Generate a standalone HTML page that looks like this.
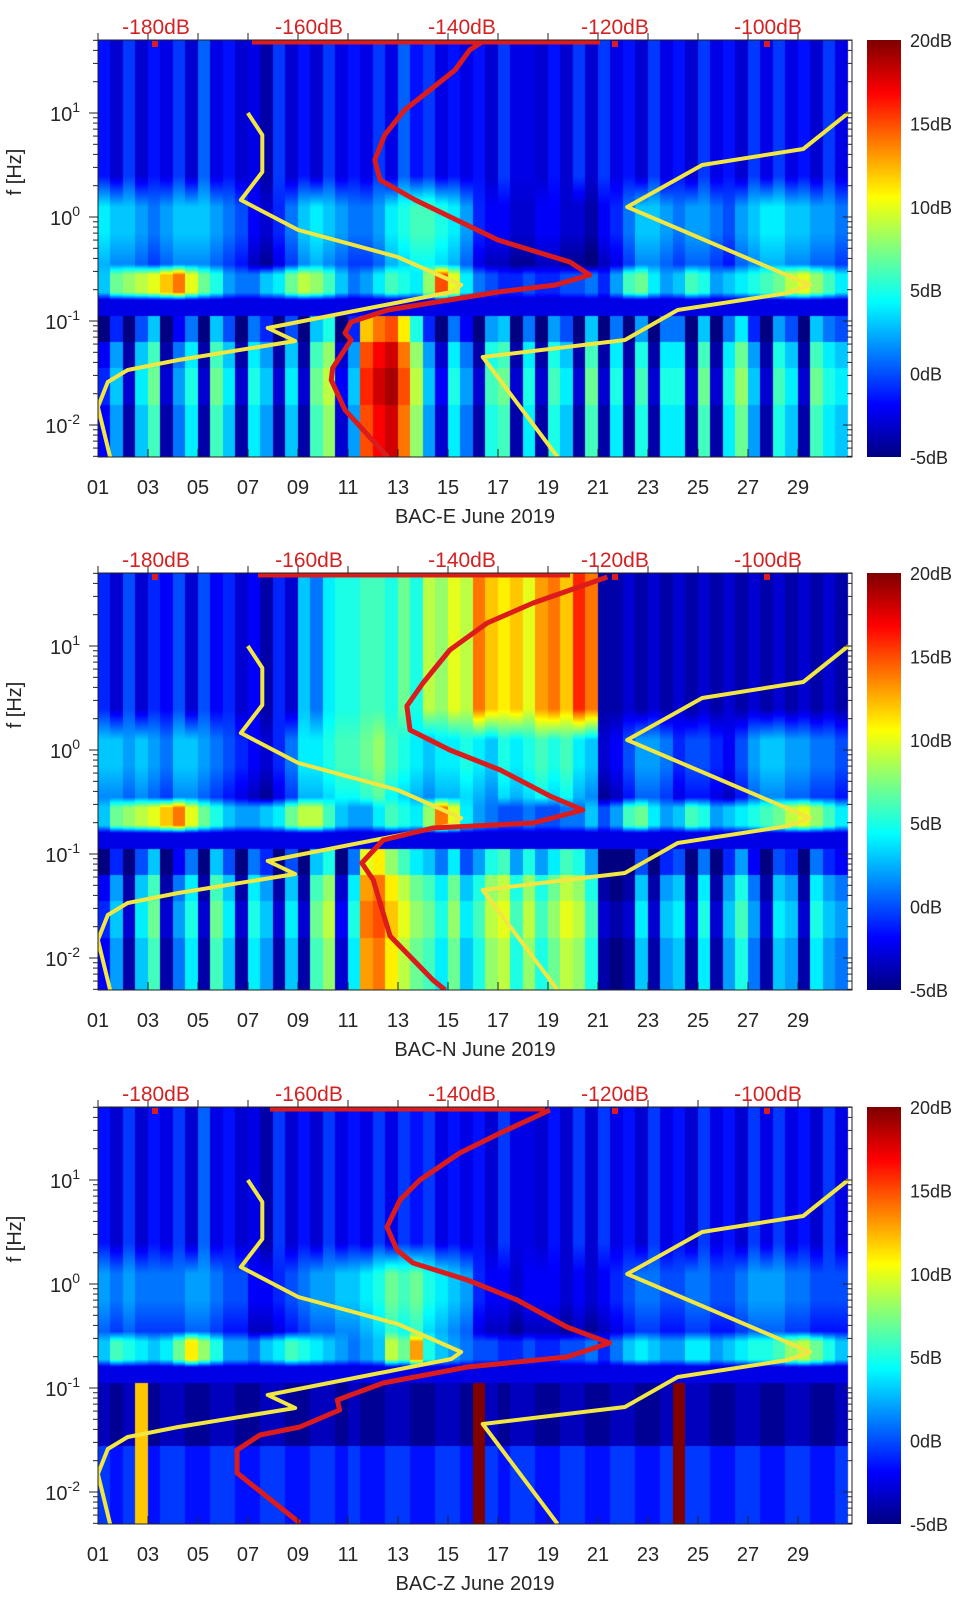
<!DOCTYPE html>
<html><head><meta charset="utf-8">
<style>
html,body{margin:0;padding:0;background:#fff;}
#wrap{position:relative;width:962px;height:1599px;overflow:hidden;font-family:"Liberation Sans",sans-serif;}
canvas{position:absolute;}
svg{position:absolute;left:0;top:0;}
</style></head>
<body>
<div id="wrap">
<canvas id="c0" width="754" height="417" style="left:98px;top:40px"></canvas>
<canvas id="c1" width="754" height="417" style="left:98px;top:573px"></canvas>
<canvas id="c2" width="754" height="417" style="left:98px;top:1107px"></canvas>
<canvas id="cb0" width="34" height="417" style="left:867px;top:40px"></canvas>
<canvas id="cb1" width="34" height="417" style="left:867px;top:573px"></canvas>
<canvas id="cb2" width="34" height="417" style="left:867px;top:1107px"></canvas>
<svg id="ov" width="962" height="1599" xmlns="http://www.w3.org/2000/svg"></svg>
</div>
<script>
// ---- data ----
const panelTitles = ["BAC-E June 2019","BAC-N June 2019","BAC-Z June 2019"];
const dayTicks = ["01","03","05","07","09","11","13","15","17","19","21","23","25","27","29"];
const dbTicks = [-180,-160,-140,-120,-100];
const cbTicks = [20,15,10,5,0,-5];
const yDecades = [1,0,-1,-2];

// half-day spectrogram levels (dB) per band
const hiE = [-1.5,-3,-0.5,-3,-1.5,-2.5,-0.5,-3,0.5,-2.5,-1.5,-3,-2.5,-4,-0.5,-3,-1.5,-3,-0.5,-2.5,-1.5,-2.5,-0.5,-2.5,0.5,-1.5,-0.5,-2.5,-1.5,-2.5,-1.5,-3,-0.5,-2.5,-2.5,-3,-1.5,-3,-0.5,-3,-0.5,-2.5,-1.5,-3,-0.5,-2.5,-1.5,-3,-0.5,-2.5,-1.5,-3,-0.5,-2.5,-0.5,-2.5,-1.5,-3,-0.5,-2.5];
const midE = [4,3,3,2,1,2,3,3,3,2,1,0,-2,-3,-1,1,3,4,3,2,1,1,2,4,5,6,6,5,4,2,-1,-2,-2,-3,-3,-2,-2,-3,-3,-4,-2,-1,1,3,3,2,1,2,2,1,0,2,3,4,4,3,3,2,2,1];
const msE = [3,7,8,9,10,12,14,10,7,5,2,1,1,3,4,7,9,8,6,3,1,2,4,6,5,4,8,15,10,4,1,0,-1,-1,0,-1,-1,0,0,1,-1,2,6,7,4,2,3,6,5,2,3,4,5,6,7,9,10,8,6,4];
const loE = [-1,3,-3,4,7,-3,2,5,-3,7,4,-3,5,3,-3,4,-3,7,9,-2,3,16,18,19,15,9,3,-2,5,2,-3,6,7,-3,5,-3,6,4,-3,7,-3,5,-3,6,-3,5,5,-3,7,-3,5,8,3,-3,6,4,-3,7,5,4];

const hiN = [-1,-3,0,-3,-1,-2,0,-3,0,-2,-1,-3,-2,-4,-1,-3,3,1,4,5,5,6,6,5,7,5,9,8,10,9,14,12,11,12,10,13,14,12,16,14,-4,-4,-3,-4,-3,-4,-3,-4,-3,-4,-3,-4,-3,-4,-3,-4,-3,-4,-3,-4];
const midN = [3,3,2,3,2,1,3,3,2,1,0,-1,-2,-3,-1,1,4,4,5,6,6,7,8,6,5,4,3,4,4,5,4,3,5,4,5,6,5,6,4,3,-3,-2,0,2,2,1,-1,0,0,-1,-2,0,2,3,3,2,2,1,1,0];
const msN = [3,7,8,9,10,12,14,10,7,5,3,2,2,3,4,7,9,9,6,3,2,2,4,6,5,4,8,14,10,4,2,1,0,0,1,0,0,1,1,3,0,2,6,7,4,2,3,6,5,2,3,4,5,6,7,9,10,8,6,4];
const loN = [-1,3,-3,4,7,-3,2,5,-3,7,4,-3,5,3,-3,4,-3,7,9,-2,5,14,15,12,10,8,7,5,8,4,6,9,10,6,9,6,8,10,9,6,-3,-4,-3,4,-3,3,4,-3,5,-3,3,6,2,-3,4,3,-3,5,3,2];

const hiZ = [-1.5,-3,-0.5,-3,-1.5,-2.5,-0.5,-3,0.5,-2.5,-1.5,-3,-2.5,-4,-0.5,-3,-1.5,-3,-0.5,-2.5,-1.5,-2.5,-0.5,-2.5,-0.5,-1.5,-0.5,-2.5,-1.5,-2.5,-1.5,-3,-0.5,-2.5,-2.5,-3,-1.5,-3,-0.5,-3,-0.5,-2.5,-1.5,-3,-0.5,-2.5,-1.5,-3,-0.5,-2.5,-1.5,-3,-0.5,-2.5,-0.5,-2.5,-1.5,-3,-0.5,-2.5];
const midZ = [2,1,2,1,1,1,1,2,2,1,0,0,-2,-2,-1,0,1,2,2,3,3,4,5,7,6,7,5,4,3,2,-1,-2,-2,-3,-2,-2,-2,-3,-2,-3,-2,-1,0,1,1,0,0,1,1,0,0,1,2,2,2,1,1,0,0,0];
const msZ = [3,6,5,4,3,4,7,11,8,5,2,2,1,3,4,6,5,4,3,2,1,2,3,9,7,13,5,3,2,1,0,0,-1,-1,0,-1,-1,0,0,1,-1,1,3,4,3,2,2,4,4,2,3,4,5,5,6,8,9,7,5,3];
const loZ = [-1,-2,-1,12,-2,-1,-1,-2,-2,-1,-1,-2,-2,-1,-1,-2,-2,-1,-1,-2,-1,-2,-2,-1,-1,-2,-2,-1,-1,-2,20,-1,-2,-1,-1,-2,-2,-1,-1,-2,-2,-1,-1,-2,-2,-1,20,-1,-1,-2,-2,-1,-1,-2,-2,-1,-1,-2,-2,-1];

// Peterson noise models (dB vs log10 f)
const nlnmDb = [-168.0,-166.1,-166.1,-168.9,-161.4,-148.4,-140.1,-141.4,-165.4,-161.8,-177.1,-183.7,-186.3,-187.6,-186.0];
const nlnmLogF = [1.0,0.788,0.433,0.163,-0.125,-0.385,-0.654,-0.721,-1.067,-1.192,-1.375,-1.471,-1.587,-1.827,-2.308];
const nhnmDb = [-89.5,-95.4,-108.6,-118.4,-94.5,-97.4,-111.8,-118.7,-137.3,-127.5];
const nhnmLogF = [1.0,0.654,0.5,0.096,-0.654,-0.731,-0.894,-1.183,-1.346,-2.308];

// median noise per component
const redEDb = [-137.0,-139.0,-140.9,-144.2,-147.5,-150.1,-151.4,-150.7,-146.1,-135.3,-125.9,-123.3,-127.8,-135.3,-149.7,-154.5,-155.3,-154.5,-156.9,-157.1,-155.3,-149.7];
const redELogF = [1.702,1.606,1.413,1.221,1.029,0.788,0.548,0.356,0.163,-0.221,-0.433,-0.558,-0.654,-0.721,-0.894,-1.010,-1.115,-1.183,-1.452,-1.567,-1.856,-2.308];
const redNDb = [-121.0,-130.7,-136.7,-141.6,-145.1,-147.2,-146.8,-141.6,-135.0,-128.5,-124.2,-130.7,-143.8,-150.3,-153.1,-151.6,-150.7,-149.4,-143.8,-142.2];
const redNLogF = [1.663,1.413,1.221,0.962,0.644,0.423,0.192,0,-0.192,-0.442,-0.577,-0.702,-0.750,-0.865,-1.087,-1.250,-1.471,-1.788,-2.212,-2.308];
const redZDb = [-128.5,-135.0,-140.3,-145.5,-148.1,-149.8,-148.5,-146.4,-139.3,-132.8,-126.3,-120.7,-126.3,-139.3,-150.3,-156.3,-156.0,-161.2,-166.4,-169.4,-169.4,-161.2];
const redZLogF = [1.673,1.452,1.260,1.0,0.808,0.548,0.327,0.202,0.038,-0.154,-0.413,-0.567,-0.702,-0.798,-0.952,-1.115,-1.212,-1.375,-1.452,-1.596,-1.817,-2.298];

// ---- geometry ----
const PX0 = 98, PW = 754, PH = 417;
const offs = [0,533,1067];
const dayX = d => PX0 + (d-1)*25;
const dbX = db => 156 + (db+180)*7.65;
const fY = (lf, off) => off + 113 + (1-lf)*104;
const LF_TOP = 1 + 73/104, LF_BOT = 1 - 344/104;

function jet(v){
  let t=(v+5)/25; t=Math.max(0,Math.min(1,t));
  const c=x=>Math.round(255*Math.max(0,Math.min(1,x)));
  return `rgb(${c(1.5-Math.abs(4*t-3))},${c(1.5-Math.abs(4*t-2))},${c(1.5-Math.abs(4*t-1))})`;
}
function lerp(a,b,t){return a+(b-a)*Math.max(0,Math.min(1,t));}

const bands = [[hiE,midE,msE,loE],[hiN,midN,msN,loN],[hiZ,midZ,msZ,loZ]];
function valueAt(p,i,lf){
  const [hi,mid,ms,lo]=bands[p];
  const H=hi[i]??0,M=mid[i]??0,S=ms[i]??0,L=lo[i]??0;
  let loV;
  if(p===2){ loV = lf>-1.55 ? (L>5?L:L-2.5) : (L>5?L:L+0.5); }
  else { loV = lf>-1.2 ? L-4 : (lf>-1.45 ? L-1 : (lf>-1.8 ? L : L-1)); }
  if(lf>=0.4) return H;
  if(lf>=0.1) return lerp(M,H,(lf-0.1)/0.3);
  if(lf>=-0.45) return lerp(M-1.5,M,(lf+0.45)/0.3);
  if(lf>=-0.55) return lerp(M-1.5,S,(-0.45-lf)/0.1);
  if(lf>=-0.72) return S;
  if(lf>=-0.8) return lerp(S,-3,(-0.72-lf)/0.08);
  if(lf>=-0.95) return -2.5;
  return loV;
}
for(let p=0;p<3;p++){
  const ctx=document.getElementById('c'+p).getContext('2d');
  for(let i=0;i<60;i++){
    const x0=Math.floor(i*12.5), x1=Math.floor((i+1)*12.5);
    for(let r=0;r<PH;r++){
      const lf = 1-((r+40)-113)/104;
      ctx.fillStyle=jet(valueAt(p,i,lf));
      ctx.fillRect(x0,r,x1-x0,1);
    }
  }
  const cb=document.getElementById('cb'+p).getContext('2d');
  for(let r=0;r<PH;r++){cb.fillStyle=jet(20-25*r/PH);cb.fillRect(0,r,34,1);}
}

// ---- overlay ----
const NS="http://www.w3.org/2000/svg";
const ov=document.getElementById('ov');
function mk(tag,attrs,parent){const e=document.createElementNS(NS,tag);for(const k in attrs)e.setAttribute(k,attrs[k]);(parent||ov).appendChild(e);return e;}
function poly(dbs,lfs,off,color,name,parent,w){
  const pts=dbs.map((d,k)=>dbX(d).toFixed(1)+','+fY(lfs[k],off).toFixed(1)).join(' ');
  const e=mk('polyline',{points:pts,fill:'none',stroke:color,'stroke-width':w,'stroke-linejoin':'round'},parent);
  
  
}
const reds=[[redEDb,redELogF],[redNDb,redNLogF],[redZDb,redZLogF]];
const topBar=[[252,600],[258,570],[270,545]];
for(let p=0;p<3;p++){
  const off=offs[p];
  const g=mk('g',{});
  
  
  const clip=mk('clipPath',{id:'clip'+p},g);
  mk('rect',{x:PX0,y:40+off,width:PW,height:PH},clip);
  const lines=mk('g',{'clip-path':'url(#clip'+p+')'},g);
  poly(nlnmDb,nlnmLogF,off,'#f2e640','nlnm-line',lines,4);
  poly(nhnmDb,nhnmLogF,off,'#f2e640','nhnm-line',lines,4);
  poly(reds[p][0],reds[p][1],off,'#dc1c1c','median-noise-line',lines,5);
  const tb=mk('line',{x1:topBar[p][0],x2:topBar[p][1],y1:42+off,y2:42+off,stroke:'#dc1c1c','stroke-width':5},g);
  
  
  [155,615,767].forEach(x=>{const m=mk('rect',{x:x-3,y:41+off,width:6,height:6,fill:'#dc1c1c'},g);
    
    });
  const box=mk('rect',{x:PX0,y:40+off,width:PW,height:PH,fill:'none',stroke:'#222','stroke-width':1},g);
  
  
  dayTicks.forEach(lbl=>{
    const x=dayX(parseInt(lbl,10));
    mk('line',{x1:x,x2:x,y1:457+off,y2:449+off,stroke:'#222'},g);
    mk('line',{x1:x,x2:x,y1:40+off,y2:33+off,stroke:'#222'},g);
    const t=mk('text',{x:x,y:494+off,'text-anchor':'middle','font-size':20,fill:'#262626'},g);
    t.textContent=lbl;
    
    
  });
  const tt=mk('text',{x:475,y:523+off,'text-anchor':'middle','font-size':20,fill:'#262626'},g);
  tt.textContent=panelTitles[p];
  
  
  dbTicks.forEach(db=>{
    const t=mk('text',{x:dbX(db),y:34+off,'text-anchor':'middle','font-size':21,fill:'#d42222'},g);
    t.textContent=db+'dB';
    
    
  });
  for(let d=-3;d<=1;d++){
    for(let k=1;k<=9;k++){
      const lf=d+Math.log10(k);
      if(lf<LF_BOT||lf>LF_TOP) continue;
      const y=fY(lf,off), L=k===1?9:5;
      mk('line',{x1:PX0-L,x2:PX0,y1:y,y2:y,stroke:'#222'},g);
      mk('line',{x1:PX0+PW,x2:PX0+PW-L,y1:y,y2:y,stroke:'#222'},g);
    }
  }
  yDecades.forEach(d=>{
    const y=fY(d,off);
    const t=mk('text',{x:80,y:y+8,'text-anchor':'end','font-size':20,fill:'#262626'},g);
    
    
    const a=mk('tspan',{},t); a.textContent='10';
    const b=mk('tspan',{dy:-9,'font-size':14},t); b.textContent=String(d);
  });
  const yl=mk('text',{x:0,y:0,'text-anchor':'middle','font-size':20,fill:'#262626',transform:`translate(21,${172+off}) rotate(-90)`},g);
  yl.textContent='f [Hz]';
  
  
  cbTicks.forEach(v=>{
    const y=40+off+(20-v)/25*PH;
    const t=mk('text',{x:910,y:y+7,'font-size':18,fill:'#262626'},g);
    t.textContent=v+'dB';
    
    
  });
}
</script>
</body></html>
